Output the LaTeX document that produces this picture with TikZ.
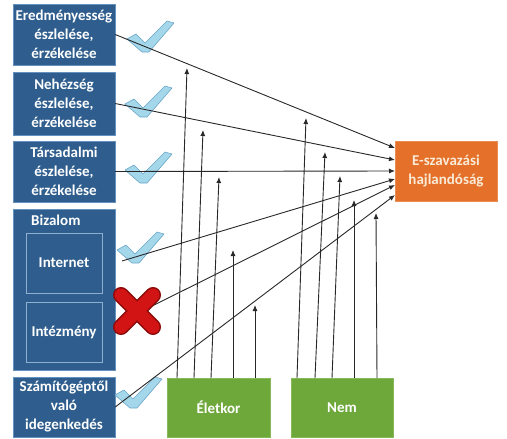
\documentclass[tikz,border=0pt]{standalone}
\usepackage{fontspec}
\setmainfont{Carlito}
\usetikzlibrary{arrows.meta}
\definecolor{boxblue}{RGB}{47,94,142}
\definecolor{boxedge}{RGB}{100,145,190}
\definecolor{inneredge}{RGB}{140,175,210}
\definecolor{boxorange}{RGB}{228,112,42}
\definecolor{boxgreen}{RGB}{110,168,58}
\definecolor{greenedge}{RGB}{135,185,90}
\definecolor{chkfill}{RGB}{165,215,235}
\definecolor{chkedge}{RGB}{105,165,200}
\definecolor{xred}{RGB}{210,20,20}
\definecolor{xdark}{RGB}{140,10,10}
\definecolor{linegray}{RGB}{40,40,40}
\definecolor{evtext}{RGB}{250,235,215}
\tikzset{
  lbl/.style={text=white, align=center, inner sep=0pt, font=\bfseries\fontsize{15}{19}\selectfont},
  bluebox/.style={lbl, draw=boxedge, fill=boxblue, minimum width=102pt},
  innerbox/.style={lbl, draw=inneredge, fill=boxblue, minimum width=76pt, minimum height=60pt},
  orangebox/.style={lbl, text=evtext, draw=boxorange!80!white, fill=boxorange, minimum width=102pt, minimum height=60pt},
  greenbox/.style={lbl, draw=greenedge, fill=boxgreen, minimum width=103pt, minimum height=59pt},
  conn/.style={draw=linegray, line width=0.9pt, -{Latex[length=6pt,width=5pt]}},
  chk/.pic={\draw[fill=chkfill, draw=chkedge, line width=0.6pt, line join=round]
     (-18,-13) -- (-9,-18) -- (0,-9) -- (22,-31) -- (29,-29) -- (4,0) -- (-3,0) -- cycle;}
}
\begin{document}
\begin{tikzpicture}[x=1pt,y=-1pt]
\useasboundingbox (0,0) rectangle (507,439);
% left boxes
\node[bluebox, minimum height=61pt] (b1) at (64,34.5) {Eredményesség\\észlelése,\\érzékelése};
\node[bluebox, minimum height=63pt] (b2) at (64,103.5) {Nehézség\\észlelése,\\érzékelése};
\node[bluebox, minimum height=61pt] (b3) at (64,171.5) {Társadalmi\\észlelése,\\érzékelése};
\node[bluebox, minimum height=161pt] (b4) at (64,289.5) {};
\node[lbl, anchor=west] (biz) at (31,220) {Bizalom};
\node[innerbox] (inet) at (64,263) {Internet};
\node[innerbox] (intez) at (64,332) {Intézmény};
\node[bluebox, minimum height=60pt] (b5) at (64,407) {Számítógéptől\\való\\idegenkedés};
% right and bottom boxes
\node[orangebox] (ev) at (446,171) {E-szavazási\\hajlandóság};
\node[greenbox] (kor) at (218.5,407.5) {Életkor};
\node[greenbox, minimum width=102pt] (nem) at (342,407.5) {Nem};
% check marks
\pic at (145,52) {chk};
\pic at (143,117) {chk};
\pic at (143,183) {chk};
\pic at (135,263) {chk};
\pic at (133,408) {chk};
% coordinates
\coordinate (s4) at (122,261);
\coordinate (s5) at (116,324);
\coordinate (e1) at (395,148);
\coordinate (e2) at (395,160);
\coordinate (e3) at (395,171);
\coordinate (e4) at (395,179);
\coordinate (e5) at (395,185);
\coordinate (e6) at (395,195);
% paths to E-szavazasi
\draw[conn] (b1.east) -- (e1);
\draw[conn] (b2.east) -- (e2);
\draw[conn] (b3.east) -- (e3);
\draw[conn] (s4) -- (e4);
\draw[conn] (s5) -- (e5);
\draw[conn] (b5.east) -- (e6);
% moderators: Eletkor
\foreach \bx/\tx/\ty [count=\i] in {177/187/68, 194/203/130, 211/219/177, 233/233/250, 255/255/305}{
  \coordinate (ka\i) at (\bx,378);
  \coordinate (kt\i) at (\tx,\ty);
  \draw[conn] (ka\i) -- (kt\i);
}
% moderators: Nem
\foreach \bx/\tx/\ty [count=\i] in {297/306/118, 315/325/152, 332/340/176, 354/354/200, 377/376/213}{
  \coordinate (na\i) at (\bx,378);
  \coordinate (nt\i) at (\tx,\ty);
  \draw[conn] (na\i) -- (nt\i);
}
% red cross
\draw[xdark, line width=16pt, line cap=round] (121,295) -- (153,327) (153,295) -- (121,327);
\draw[xred, line width=13pt, line cap=round] (121,295) -- (153,327) (153,295) -- (121,327);
\end{tikzpicture}
\end{document}
